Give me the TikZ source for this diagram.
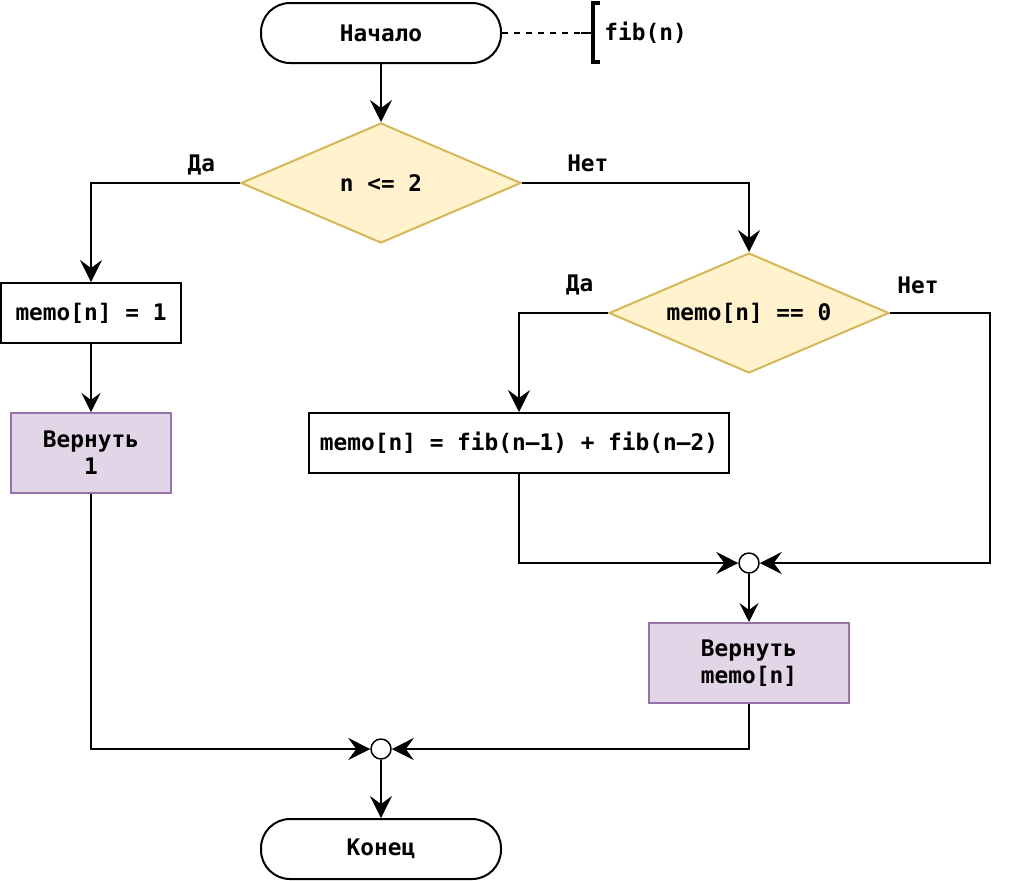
\documentclass[tikz,border=0pt]{standalone}
\usepackage{fontspec}
\setmonofont{DejaVu Sans Mono}
\usetikzlibrary{positioning,arrows.meta,shapes.geometric,calc}
\definecolor{ink}{HTML}{000000}
\definecolor{paper}{HTML}{FFFFFF}
\definecolor{cfill}{HTML}{FFF2CC}
\definecolor{cline}{HTML}{D6B656}
\definecolor{rfill}{HTML}{E1D5E7}
\definecolor{rline}{HTML}{9673A6}
\newcommand\fcfont{\fontsize{11.4}{13.5}\selectfont\ttfamily\bfseries}
\tikzset{
  term/.style={draw=ink, line width=1pt, rounded corners=14.5pt, fill=paper, minimum width=120pt, minimum height=30pt, inner sep=0pt, font=\fcfont},
  proc/.style={draw=ink, line width=1pt, fill=paper, minimum height=30pt, inner sep=0pt, font=\fcfont},
  ret/.style={draw=rline, line width=1pt, fill=rfill, minimum height=40pt, inner sep=0pt, align=center, font=\fcfont},
  cond/.style={diamond, aspect=2.333, draw=cline, line width=1pt, fill=cfill, minimum width=140pt, minimum height=60pt, inner sep=0pt, font=\fcfont},
  junc/.style={circle, draw=ink, line width=0.75pt, fill=paper, minimum size=10pt, inner sep=0pt},
  lbl/.style={font=\fcfont, text=ink, inner sep=1pt},
  arr/.style={-{Stealth[length=11pt, width=11pt, inset=4pt]}, line width=1pt, draw=ink},
  arrs/.style={-{Stealth[length=9.5pt, width=9.5pt, inset=3.5pt]}, line width=1pt, draw=ink},
}

\begin{document}
\begin{tikzpicture}[x=0.5pt, y={(0,-0.5pt)}]
\useasboundingbox (0,0) rectangle (1010,880);

% ---------------- start ----------------
\node[term] (start) at (381,33) {Начало};
\coordinate (brk) at (593,33);
\node[lbl, anchor=west, inner sep=2pt] (sig) at (600,33) {fib(n)};

% ---------------- conditions ----------------
\node[cond] (c1) at (381,183) {n <= 2};
\node[cond] (c2) at (749,313) {memo[n] == 0};

% ---------------- actions ----------------
\node[proc, minimum width=90pt] (p1) at (91,313) {memo[n] = 1};
\node[ret, minimum width=80pt] (r1) at (91,453) {Вернуть\\1};
\node[proc, minimum width=210pt] (p2) at (519,443) {memo[n] = fib(n–1) + fib(n–2)};
\node[junc] (j1) at (749,563) {};
\node[ret, minimum width=100pt] (r2) at (749,663) {Вернуть\\memo[n]};
\node[junc] (j2) at (381,749) {};
\node[term] (stop) at (381,849) {Конец};

% ---------------- arrows ----------------
\draw[dashed, line width=0.75pt] (start.east) -- (brk);
\draw[line width=1pt] (brk) -- ++(-12,0);
\draw[line width=2pt] ($(brk)+(7,-30)$) -- ++(-7,0) -- ++(0,59) -- ++(7,0);
\draw[arr] (start) -- (c1);
\draw[arr] (c1.west) -| node[lbl, pos=0.13, above=2.5pt] {Да} (p1);
\draw[arr] (c1.east) -| node[lbl, pos=0.145, above=4pt] {Нет} (c2);
\draw[arrs] (p1) -- (r1);
\draw[arr] (c2.west) -| node[lbl, pos=0.16, above=7.5pt] {Да} (p2);
\draw[arr] (c2.east) -- node[lbl, pos=0.28, above=8pt] {Нет} ++(100,0) |- (j1);
\draw[arr] (p2.south) |- (j1);
\draw[arrs] (j1) -- (r2);
\draw[arr] (r2.south) |- (j2);
\draw[arr] (r1.south) |- (j2);
\draw[arr] (j2) -- (stop);

\end{tikzpicture}
\end{document}
